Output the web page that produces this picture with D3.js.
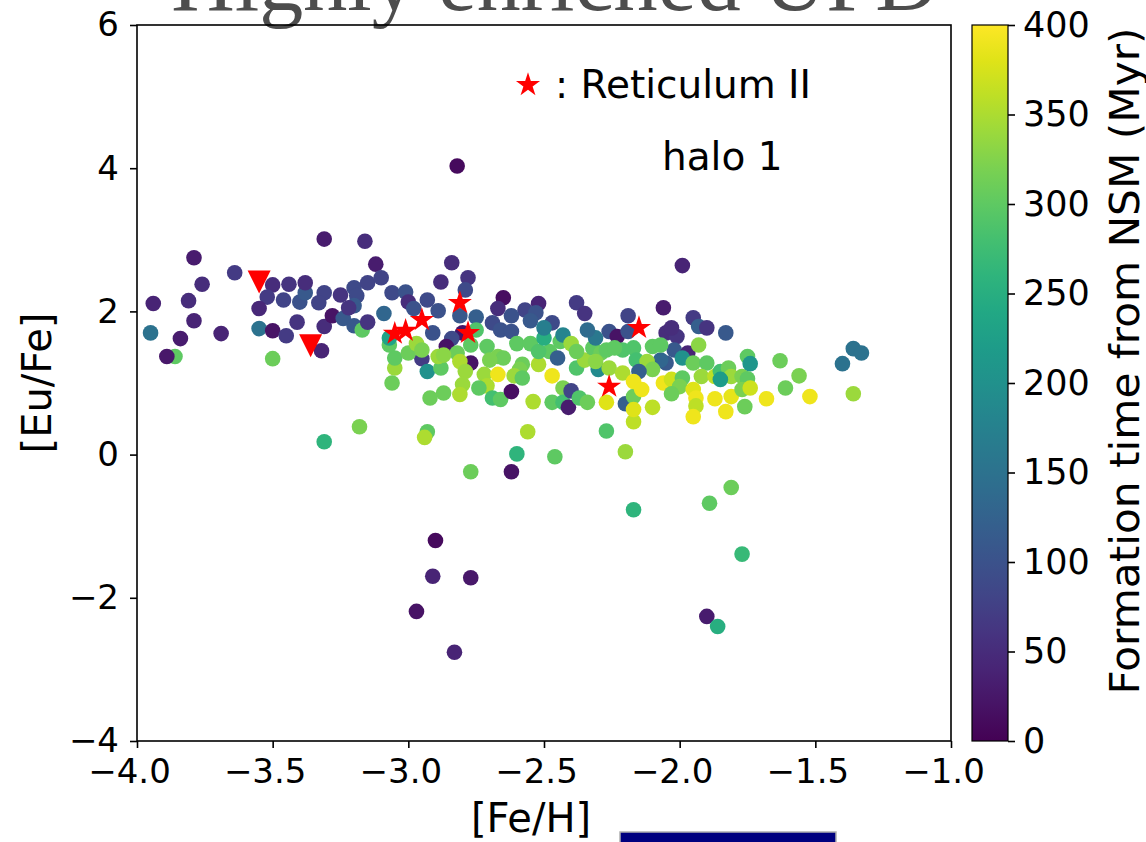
<!DOCTYPE html>
<html><head><meta charset="utf-8">
<script src="https://cdn.jsdelivr.net/npm/d3@7"></script>
<style>body{margin:0;background:#fff}svg{display:block}text{font-family:"DejaVu Sans",sans-serif}</style>
</head><body>
<script>
// simulated stars: [Fe/H], [Eu/Fe], formation time from NSM (Myr)
const simStars = [
[-3.94,2.11,40],[-3.79,2.75,30],[-3.76,2.38,50],[-3.81,2.15,50],[-3.79,1.87,40],[-3.95,1.70,150],[-3.84,1.62,30],[-3.86,1.37,300],[-3.89,1.37,25],[-3.69,1.69,40],
[-3.64,2.54,70],[-3.50,2.37,50],[-3.52,2.20,70],[-3.55,2.04,45],[-3.55,1.76,150],[-3.50,1.73,20],[-3.45,1.66,70],[-3.50,1.34,310],[-3.46,2.16,80],[-3.44,2.38,60],
[-3.40,2.13,100],[-3.38,2.26,110],[-3.38,2.40,50],[-3.41,1.85,60],[-3.32,1.45,40],[-3.31,3.01,30],[-3.31,2.26,80],[-3.33,2.12,80],[-3.31,1.79,50],[-3.28,1.94,20],
[-3.25,2.23,60],[-3.24,1.90,110],[-3.20,2.33,90],[-3.19,2.22,90],[-3.20,2.08,110],[-3.22,2.05,60],[-3.20,1.80,110],[-3.17,1.74,300],[-3.15,1.85,60],[-3.16,2.98,50],
[-3.12,2.66,30],[-3.15,2.40,80],[-3.10,2.47,80],[-3.09,1.97,130],[-3.18,0.39,320],[-3.31,0.18,260],[-3.06,2.26,90],
[-2.84,2.68,50],[-2.88,2.41,50],[-2.78,2.47,60],[-2.79,2.30,90],[-3.01,2.27,100],[-3.00,2.13,50],[-2.93,2.16,90],[-2.98,2.04,100],[-2.89,2.01,100],[-2.65,2.19,15],
[-2.67,2.04,50],[-2.52,2.11,40],[-2.57,2.02,80],[-2.53,1.98,100],[-2.62,1.94,100],[-2.38,2.12,70],[-2.35,1.97,60],[-2.47,1.84,90],[-2.55,1.87,110],[-2.75,1.92,120],
[-2.81,1.94,110],[-2.69,1.84,90],[-2.66,1.74,100],[-2.62,1.72,100],[-2.91,1.70,100],[-2.80,1.70,20],[-2.75,1.74,290],[-2.84,1.62,90],[-2.86,1.51,20],[-2.95,1.34,70],
[-2.77,1.28,20],[-2.93,1.16,200],[-2.88,1.21,300],[-3.05,1.21,340],[-3.05,1.35,300],[-3.06,1.00,310],[-3.07,1.53,300],[-3.07,1.63,230],[-3.00,1.42,310],[-2.97,1.55,340],
[-2.95,1.46,320],[-2.89,1.37,340],[-2.82,1.42,310],[-2.81,1.30,350],[-2.79,1.16,340],[-2.80,0.98,340],[-2.81,0.84,350],[-2.87,0.86,310],[-2.92,0.79,310],[-2.71,1.51,300],
[-2.72,1.12,340],[-2.71,0.96,350],[-2.74,0.93,300],[-2.67,1.12,390],[-2.69,0.79,280],[-2.66,0.77,300],[-2.62,0.88,15],[-2.67,1.37,320],[-2.65,1.35,310],[-2.60,1.55,300],
[-2.55,1.55,300],[-2.58,1.26,310],[-2.52,1.26,350],[-2.59,1.19,320],[-2.61,1.10,340],[-2.58,1.07,300],[-2.54,0.74,350],[-2.47,0.73,300],[-2.47,1.10,390],[-2.43,0.93,320],
[-2.43,0.73,280],[-2.41,0.66,30],[-2.40,0.89,80],[-2.37,0.79,290],[-2.34,0.73,310],[-2.38,1.21,290],[-2.44,1.58,300],[-2.48,1.44,300],[-2.45,1.35,120],[-2.43,1.67,180],
[-2.40,1.55,340],[-2.35,1.32,340],[-2.32,1.49,300],[-2.30,1.19,190],[-2.29,1.42,310],[-2.26,1.21,340],[-2.26,1.72,100],[-2.23,1.65,20],[-2.27,0.73,380],[-2.93,0.32,300],
[-2.94,0.24,350],[-2.56,0.32,350],[-2.27,0.33,290],[-2.60,0.01,260],[-2.46,-0.03,300],[-2.77,-0.24,310],[-2.62,-0.24,20],[-2.20,0.04,340],
[-1.99,2.64,40],[-2.06,2.05,30],[-2.19,1.94,80],[-1.95,1.91,70],[-1.93,1.79,120],[-1.90,1.77,60],[-1.83,1.70,110],[-2.19,1.72,100],[-2.05,1.70,50],[-2.01,1.65,60],
[-2.03,1.77,50],[-2.02,1.46,110],[-1.97,1.42,40],[-1.99,1.35,200],[-2.05,1.28,110],[-2.07,1.32,130],[-2.10,1.51,300],[-2.17,1.49,290],[-2.21,1.46,290],[-2.27,1.46,300],
[-2.16,1.32,280],[-2.12,1.30,340],[-2.10,1.19,320],[-2.15,1.16,120],[-2.21,1.14,350],[-2.20,0.71,120],[-2.17,0.81,310],[-2.17,1.02,390],[-2.14,0.91,390],[-2.17,0.46,360],
[-2.10,0.66,360],[-2.17,0.63,380],[-2.06,1.00,390],[-2.03,1.05,370],[-1.99,1.07,300],[-2.00,0.95,320],[-2.03,0.85,310],[-1.95,1.28,310],[-1.90,1.28,300],[-1.92,1.09,340],
[-1.95,0.91,380],[-1.94,0.79,390],[-1.94,0.68,360],[-1.95,0.53,390],[-1.87,1.09,360],[-1.85,1.16,280],[-1.82,1.21,310],[-1.81,1.09,340],[-1.85,1.05,220],[-1.87,0.78,390],
[-1.83,0.60,390],[-1.81,0.81,385],[-1.77,1.09,320],[-1.75,1.37,300],[-1.74,1.27,210],[-1.75,1.06,300],[-1.77,0.91,320],[-1.74,0.93,370],[-1.76,0.67,310],[-1.68,0.78,390],
[-1.63,1.31,310],[-1.61,0.93,310],[-1.56,1.10,320],[-1.52,0.81,390],[-1.40,1.27,150],[-1.36,1.48,150],[-1.33,1.42,150],[-1.36,0.85,340],
[-2.90,-1.20,10],[-2.91,-1.70,40],[-2.77,-1.72,25],[-2.97,-2.19,20],[-2.83,-2.76,40],[-2.17,-0.77,260],[-1.89,-0.68,300],[-1.81,-0.46,310],[-1.77,-1.39,270],[-1.90,-2.26,30],[-1.86,-2.40,250],[-2.82,4.03,10],
[-2.31,1.63,160],[-2.34,1.74,140],[-2.87,1.39,330],[-2.77,1.53,300],[-2.70,1.32,320],[-2.52,1.44,290],[-2.50,1.63,250],[-2.38,1.44,310],[-2.31,1.30,330],[-2.24,1.49,300],[-2.07,1.53,300],[-1.93,1.53,330],[-2.50,1.77,170]
];
// Reticulum II observed stars
const retFeH  = [-3.05,-3.01,-2.95,-2.81,-2.78,-2.26,-2.15];
const retEuFe = [1.69,1.73,1.88,2.12,1.70,0.95,1.77];
// upper limits (down triangles)
const limFeH  = [-3.55,-3.36];
const limEuFe = [2.41,1.52];

const xTicks = [-4.0,-3.5,-3.0,-2.5,-2.0,-1.5,-1.0];
const yTicks = [-4,-2,0,2,4,6];
const cTicks = [0,50,100,150,200,250,300,350,400];

const W = 1146, H = 842;
const svg = d3.select("body").append("svg").attr("width",W).attr("height",H);

const x = d3.scaleLinear().domain([-4,-1]).range([137,951]);
const y = d3.scaleLinear().domain([-4,6]).range([741,25]);
const c = d3.scaleLinear().domain([0,400]).range([0,1]);
const col = v => d3.interpolateViridis(c(v));
const fmtMinus = s => s.replace("-", "\u2212");

// title (partly cut off)
svg.append("text").attr("x",555).attr("y",10).attr("text-anchor","middle")
  .style("font-family","'Liberation Serif','DejaVu Serif',serif").style("font-size","88px")
  .attr("fill","#4d4d4d").text("Highly enriched UFD");

// points
const plot = svg.append("g");
plot.selectAll("circle.sim").data(simStars).join("circle")
  .attr("cx",d=>x(d[0])).attr("cy",d=>y(d[1])).attr("r",7.8).attr("fill",d=>col(d[2]));

const star = d3.symbol().type(d3.symbolStar).size(180);
plot.selectAll("path.ret").data(retFeH).join("path")
  .attr("d",star).attr("fill","#ff0000")
  .attr("transform",(d,i)=>`translate(${x(d)},${y(retEuFe[i])})`);

plot.selectAll("path.lim").data(limFeH).join("path")
  .attr("d","M-11.5,-11.5L11.5,-11.5L0,11.5Z").attr("fill","#ff0000")
  .attr("transform",(d,i)=>`translate(${x(d)},${y(limEuFe[i])})`);

// frame
svg.append("rect").attr("x",137).attr("y",25).attr("width",951-137).attr("height",741-25)
  .attr("fill","none").attr("stroke","#000").attr("stroke-width",1.6);

// axes
const xAxis = d3.axisBottom(x).tickValues(xTicks).tickSize(7).tickPadding(11)
  .tickFormat(d=>fmtMinus(d3.format(".1f")(d)));
const gx = svg.append("g").attr("transform","translate(0,741)").call(xAxis);
const yAxis = d3.axisLeft(y).tickValues(yTicks).tickSize(7).tickPadding(11)
  .tickFormat(d=>fmtMinus(String(d)));
const gy = svg.append("g").attr("transform","translate(137,0)").call(yAxis);
[gx,gy].forEach(g=>{
  g.select(".domain").remove();
  g.selectAll(".tick line").attr("stroke","#000").attr("stroke-width",1.6);
  g.selectAll(".tick text").attr("fill","#000").style("font-size","34px").style("font-family","DejaVu Sans");
});
gx.selectAll(".tick text").attr("dx","-8");

svg.append("text").attr("x",531).attr("y",832).attr("text-anchor","middle")
  .style("font-size","40px").text("[Fe/H]");
svg.append("text").attr("transform","translate(51,383) rotate(-90)").attr("text-anchor","middle")
  .style("font-size","40px").text("[Eu/Fe]");

// legend & annotation
svg.append("path").attr("d",star).attr("fill","#ff0000").attr("transform","translate(528,85)");
svg.append("text").attr("x",555).attr("y",98).style("font-size","39px").text(": Reticulum II");
svg.append("text").attr("x",662).attr("y",170).style("font-size","39px").text("halo 1");

// colorbar
const cy = d3.scaleLinear().domain([0,400]).range([741,25]);
const defs = svg.append("defs");
const grad = defs.append("linearGradient").attr("id","vir").attr("x1",0).attr("y1",1).attr("x2",0).attr("y2",0);
d3.range(0,1.0001,0.05).forEach(t=>grad.append("stop").attr("offset",t).attr("stop-color",d3.interpolateViridis(t)));
svg.append("rect").attr("x",972).attr("y",25).attr("width",36).attr("height",716)
  .attr("fill","url(#vir)").attr("stroke","#000").attr("stroke-width",1.2);
const cAxis = d3.axisRight(cy).tickValues(cTicks).tickSize(7).tickPadding(8);
const gc = svg.append("g").attr("transform","translate(1008,0)").call(cAxis);
gc.select(".domain").remove();
gc.selectAll(".tick line").attr("stroke","#000").attr("stroke-width",1.6);
gc.selectAll(".tick text").attr("fill","#000").style("font-size","35px").style("font-family","DejaVu Sans");
svg.append("text").attr("transform","translate(1139,361) rotate(-90)").attr("text-anchor","middle")
  .attr("textLength",667).attr("lengthAdjust","spacingAndGlyphs")
  .style("font-size","40px").text("Formation time from NSM (Myr)");

// partial blue box at bottom
svg.append("rect").attr("x",620).attr("y",832).attr("width",216).attr("height",20)
  .attr("fill","#00007f").attr("stroke","#b0b0b0").attr("stroke-width",1.5);
</script>
</body></html>
